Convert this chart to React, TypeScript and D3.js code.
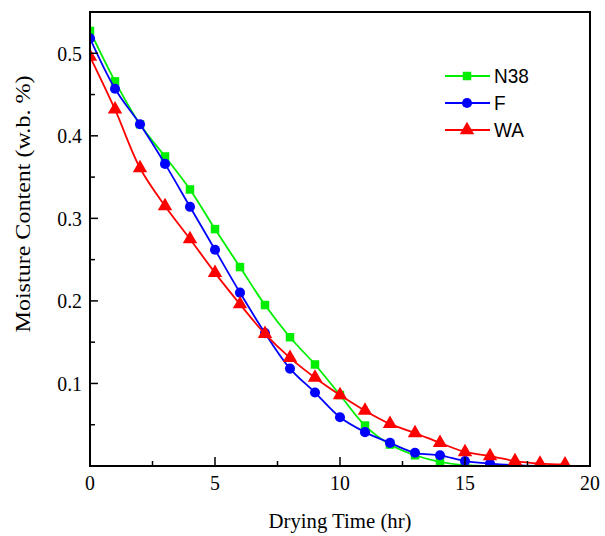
import React from "react";
import * as d3 from "d3";

const timesN38 = [0, 1, 2, 3, 4, 5, 6, 7, 8, 9, 10, 11, 12, 13, 14, 15, 16];
const valuesN38 = [0.527, 0.466, 0.414, 0.375, 0.335, 0.287, 0.241, 0.195, 0.156, 0.123, 0.086, 0.049, 0.026, 0.013, 0.005, 0.001, 0.0];
const timesF = [0, 1, 2, 3, 4, 5, 6, 7, 8, 9, 10, 11, 12, 13, 14, 15, 16, 17, 18];
const valuesF = [0.518, 0.457, 0.414, 0.366, 0.314, 0.262, 0.21, 0.161, 0.118, 0.089, 0.059, 0.041, 0.028, 0.016, 0.013, 0.006, 0.003, 0.001, 0.0];
const timesWA = [0, 1, 2, 3, 4, 5, 6, 7, 8, 9, 10, 11, 12, 13, 14, 15, 16, 17, 18, 19];
const valuesWA = [0.496, 0.432, 0.361, 0.315, 0.275, 0.234, 0.196, 0.16, 0.131, 0.107, 0.086, 0.067, 0.051, 0.04, 0.028, 0.017, 0.012, 0.006, 0.003, 0.002];

const seriesNames = ["N38", "F", "WA"];
const seriesColors = ["#00ee00", "#0000ff", "#ff0000"];
const seriesSymbols = [d3.symbolSquare, d3.symbolCircle, d3.symbolTriangle];
const symbolSizes = [72, 80, 90];

const xMajorTicks = [0, 5, 10, 15, 20];
const xMinorTicks = [2.5, 7.5, 12.5, 17.5];
const yMajorTicks = [0.1, 0.2, 0.3, 0.4, 0.5];
const yMinorTicks = [0.05, 0.15, 0.25, 0.35, 0.45];

const xTitle = "Drying Time (hr)";
const yTitle = "Moisture Content (w.b. %)";

export default function App() {
  const W = 605, H = 536;
  const L = 90, R = 590, T = 12, B = 466;
  const x = d3.scaleLinear().domain([0, 20]).range([L, R]);
  const y = d3.scaleLinear().domain([0, 0.55]).range([B, T]);

  const series = [
    { t: timesN38, v: valuesN38 },
    { t: timesF, v: valuesF },
    { t: timesWA, v: valuesWA },
  ];

  const line = d3
    .line<[number, number]>()
    .x((d) => x(d[0]))
    .y((d) => y(d[1]))
    .curve(d3.curveCatmullRom.alpha(0.5));

  const serif = "'Liberation Serif', 'Times New Roman', serif";
  const sans = "'Liberation Sans', Arial, sans-serif";

  return (
    <svg width={W} height={H} style={{ position: "absolute", left: 0, top: 0 }}>
      <defs>
        <clipPath id="plotclip">
          <rect x={L} y={T} width={R - L} height={B - T} />
        </clipPath>
      </defs>
      <rect x={0} y={0} width={W} height={H} fill="#fff" />
      <g clipPath="url(#plotclip)">
        {series.map((s, i) => {
          const pts: [number, number][] = s.t.map((t, j) => [t, s.v[j]]);
          return (
            <g key={i}>
              <path d={line(pts) || ""} fill="none" stroke={seriesColors[i]} strokeWidth={1.8} />
              {pts.map((p, j) => (
                <path
                  key={j}
                  d={d3.symbol().type(seriesSymbols[i]).size(symbolSizes[i])() || ""}
                  transform={`translate(${x(p[0])},${y(p[1])})`}
                  fill={seriesColors[i]}
                />
              ))}
            </g>
          );
        })}
      </g>
      {/* ticks */}
      {xMajorTicks.filter((t) => t > 0 && t < 20).map((t) => (
        <line key={"xm" + t} x1={x(t)} x2={x(t)} y1={B} y2={B - 9} stroke="#000" strokeWidth={1.5} />
      ))}
      {xMinorTicks.map((t) => (
        <line key={"xn" + t} x1={x(t)} x2={x(t)} y1={B} y2={B - 5} stroke="#000" strokeWidth={1.5} />
      ))}
      {yMajorTicks.map((t) => (
        <line key={"ym" + t} x1={L} x2={L + 8} y1={y(t)} y2={y(t)} stroke="#000" strokeWidth={1.5} />
      ))}
      {yMinorTicks.map((t) => (
        <line key={"yn" + t} x1={L} x2={L + 5} y1={y(t)} y2={y(t)} stroke="#000" strokeWidth={1.5} />
      ))}
      <rect x={L} y={T} width={R - L} height={B - T} fill="none" stroke="#000" strokeWidth={2} />
      {/* tick labels */}
      {xMajorTicks.map((t) => (
        <text
          key={"xl" + t}
          transform={`translate(${x(t)},${B + 24}) scale(0.9,1)`}
          textAnchor="middle"
          fontFamily={serif}
          fontSize={22}
          fill="#000"
        >
          {String(t)}
        </text>
      ))}
      {yMajorTicks.map((t) => (
        <text
          key={"yl" + t}
          transform={`translate(${L - 8},${y(t) + 7.5}) scale(0.9,1)`}
          textAnchor="end"
          fontFamily={serif}
          fontSize={22}
          fill="#000"
        >
          {d3.format(".1f")(t)}
        </text>
      ))}
      {/* axis titles */}
      <text
        x={(L + R) / 2 + 0}
        y={528}
        textAnchor="middle"
        fontFamily={serif}
        fontSize={22}
        textLength={143}
        lengthAdjust="spacingAndGlyphs"
        fill="#000"
      >
        {xTitle}
      </text>
      <text
        transform={`translate(30,204) rotate(-90)`}
        textAnchor="middle"
        fontFamily={serif}
        fontSize={22}
        textLength={257}
        lengthAdjust="spacingAndGlyphs"
        fill="#000"
      >
        {yTitle}
      </text>
      {/* legend */}
      {seriesNames.map((n, i) => {
        const cy = 76 + i * 27;
        return (
          <g key={n}>
            <line x1={445} x2={490} y1={cy} y2={cy} stroke={seriesColors[i]} strokeWidth={1.8} />
            <path
              d={d3.symbol().type(seriesSymbols[i]).size(symbolSizes[i])() || ""}
              transform={`translate(467,${cy})`}
              fill={seriesColors[i]}
            />
            <text
              transform={`translate(494,${cy + 7}) scale(0.95,1)`}
              fontFamily={sans}
              fontSize={20}
              fill="#000"
            >
              {n}
            </text>
          </g>
        );
      })}
    </svg>
  );
}
